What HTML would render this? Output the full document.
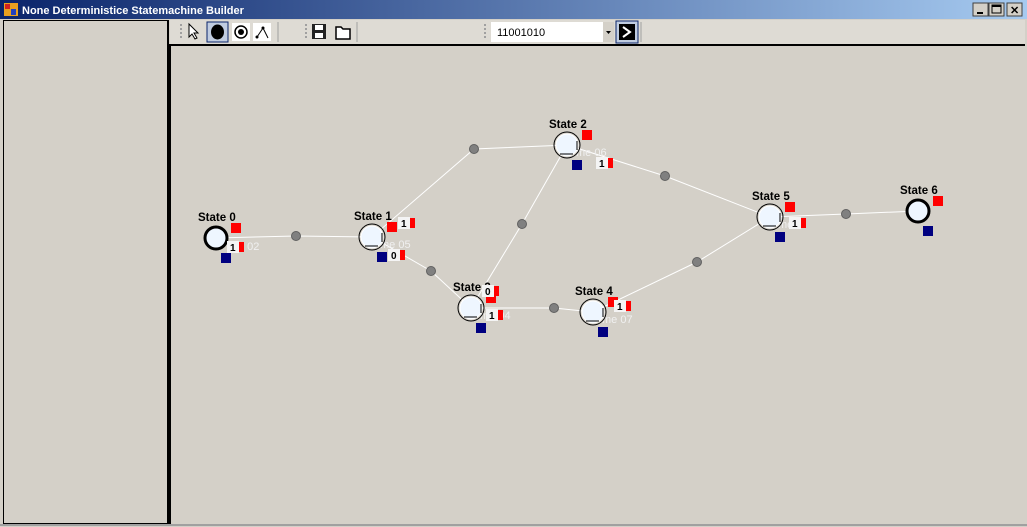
<!DOCTYPE html>
<html><head><meta charset="utf-8">
<style>
body{margin:0;width:1027px;height:527px;overflow:hidden;background:#d4d0c8;font-family:"Liberation Sans",sans-serif;}
</style></head>
<body>
<svg id="s" width="1027" height="527" xmlns="http://www.w3.org/2000/svg" style="position:absolute;left:0;top:0">
<defs>
<linearGradient id="tb" x1="0" x2="1"><stop offset="0" stop-color="#0a246a"/><stop offset="1" stop-color="#a6caf0"/></linearGradient>
</defs>
<rect x="0" y="0" width="1027" height="527" fill="#d4d0c8"/>
<g>
<rect x="0" y="0" width="1027" height="19" fill="url(#tb)"/>
<rect x="4" y="3" width="14" height="13" fill="#e8a020"/><rect x="5" y="4" width="5" height="5" fill="#d02020"/><rect x="11" y="9" width="5" height="6" fill="#2040c0"/>
<text x="22" y="14" font-size="11" font-weight="bold" fill="#fff">None Deterministice Statemachine Builder</text>
</g>
<g><rect x="973" y="3" width="15" height="13" fill="#d4d0c8" stroke="#404040"/><rect x="977" y="12" width="6" height="2" fill="#000"/></g>
<g><rect x="989" y="3" width="15" height="13" fill="#d4d0c8" stroke="#404040"/><rect x="992" y="5" width="9" height="8" fill="none" stroke="#000"/><rect x="992" y="5" width="9" height="2" fill="#000"/></g>
<g><rect x="1007" y="3" width="15" height="13" fill="#d4d0c8" stroke="#404040"/><text x="1010" y="14" font-size="11" font-weight="bold">✕</text></g>
<rect x="3.5" y="20.5" width="165" height="503" fill="#d4d0c8" stroke="#000" stroke-width="1"/>
<line x1="168" y1="20" x2="168" y2="524" stroke="#000" stroke-width="2"/>
<rect x="170" y="20" width="855" height="24" fill="#dedbd4"/>
<g><path d="M189 24 l0 13 l3 -3 l3 5 l2 -1 l-3 -5 l4 0 z" fill="#fff" stroke="#000"/></g>
<g><rect x="207" y="22" width="21" height="20" fill="#c0cce0" stroke="#0a246a"/><ellipse cx="217.5" cy="32" rx="6.5" ry="7.5" fill="#000"/></g>
<g><rect x="232" y="23" width="18" height="18" fill="#fff"/><circle cx="241" cy="32" r="6" fill="none" stroke="#000" stroke-width="1.5"/><circle cx="241" cy="32" r="3" fill="#000"/></g>
<g><rect x="253" y="23" width="18" height="18" fill="#fff"/><polyline points="257,37 263,28 268,38" fill="none" stroke="#000"/><circle cx="257" cy="37" r="1.5"/><circle cx="263" cy="28" r="1.5"/></g>
<g><rect x="312" y="24" width="14" height="15" fill="#222"/><rect x="315" y="25" width="8" height="5" fill="#fff"/><rect x="315" y="33" width="8" height="5" fill="#fff"/></g>
<g><path d="M336 27 h5 l2 2 h7 v10 h-14 z" fill="#fff" stroke="#000" stroke-width="1.5"/></g>
<g><rect x="491" y="22" width="123" height="20" fill="#fff"/><rect x="603" y="22" width="11" height="20" fill="#d4d0c8"/><path d="M606 31 h5 l-2.5 3 z" fill="#000"/><text x="497" y="36" font-size="11">11001010</text></g>
<g><rect x="616" y="21" width="22" height="22" fill="#c0cce0" stroke="#0a246a"/><rect x="619" y="24" width="16" height="16" fill="#000"/><path d="M623 27 l7 5 l-7 5" fill="none" stroke="#fff" stroke-width="2"/></g>
<g fill="#a0a0a0"><rect x="180" y="24" width="2" height="2"/><rect x="180" y="28" width="2" height="2"/><rect x="180" y="32" width="2" height="2"/><rect x="180" y="36" width="2" height="2"/><rect x="305" y="24" width="2" height="2"/><rect x="305" y="28" width="2" height="2"/><rect x="305" y="32" width="2" height="2"/><rect x="305" y="36" width="2" height="2"/><rect x="484" y="24" width="2" height="2"/><rect x="484" y="28" width="2" height="2"/><rect x="484" y="32" width="2" height="2"/><rect x="484" y="36" width="2" height="2"/></g>
<line x1="278" y1="22" x2="278" y2="42" stroke="#a0a0a0"/><line x1="357" y1="22" x2="357" y2="42" stroke="#a0a0a0"/><line x1="641" y1="22" x2="641" y2="42" stroke="#a0a0a0"/>
<rect x="170" y="45" width="855" height="479" fill="#d4d0c8"/>
<line x1="169" y1="45" x2="1025" y2="45" stroke="#000" stroke-width="2"/>
<line x1="170" y1="45" x2="170" y2="524" stroke="#000" stroke-width="2"/>
<line x1="0" y1="525" x2="1027" y2="525" stroke="#a0a0a0" stroke-width="2"/>
<g id="edges"></g><g id="nodes"></g>
</svg>
<script>
const stateNames=["State 0","State 1","State 2","State 3","State 4","State 5","State 6"];
const stateX=[216,372,567,471,593,770,918];
const stateY=[238,237,145,308,312,217,211];
const stateFinal=[1,0,0,0,0,0,1];
const edgeFrom=[0,1,1,2,3,2,4,5];
const edgeTo=[1,2,3,3,4,5,5,6];
const edgeMidX=[296,474,431,522,554,665,697,846];
const edgeMidY=[236,149,271,224,308,176,262,214];
const inputLabels=[["1",231,246],["1",402,222],["0",392,254],["1",600,162],["0",486,290],["1",490,314],["1",618,305],["1",793,222]];
const faintLabels=[["n 02",238,250],["me 05",380,248],["me 06",576,156],["me 04",480,319],["me 07",602,323],["me 0",778,228]];
const NS="http://www.w3.org/2000/svg";
function mk(t,a,p){const e=document.createElementNS(NS,t);for(const k in a)e.setAttribute(k,a[k]);p.appendChild(e);return e;}
const E=document.getElementById('edges'),N=document.getElementById('nodes');
for(let i=0;i<edgeFrom.length;i++){
 const g=mk('g',{},E);
 
 
 const a=edgeFrom[i],b=edgeTo[i];
 mk('polyline',{points:`${stateX[a]},${stateY[a]} ${edgeMidX[i]},${edgeMidY[i]} ${stateX[b]},${stateY[b]}`,fill:'none',stroke:'#ffffff','stroke-width':1},g);
 const h=mk('circle',{cx:edgeMidX[i],cy:edgeMidY[i],r:4.5,fill:'#808080',stroke:'#606060'},g);
 
 
}
for(const [v,x,y] of faintLabels){
 const t=mk('text',{x:x,y:y,'font-size':11,fill:'#f0f0f0'},E);
 
 
 t.textContent=v;
}
for(let i=0;i<stateNames.length;i++){
 const g=mk('g',{},N);
 
 
 const x=stateX[i],y=stateY[i];
 if(stateFinal[i]){mk('circle',{cx:x,cy:y,r:11,fill:'#eef6ff',stroke:'#000','stroke-width':3},g);}
 else{mk('circle',{cx:x,cy:y,r:13,fill:'none',stroke:'#000'},g);mk('circle',{cx:x,cy:y,r:11,fill:'#eef6ff',stroke:'#fff'},g);mk('line',{x1:x-7,y1:y+9,x2:x+6,y2:y+9,stroke:'#000'},g);mk('line',{x1:x+10,y1:y-4,x2:x+10,y2:y+5,stroke:'#000'},g);}
 const t=mk('text',{x:x-18,y:y-17,'font-size':11.5,'font-weight':'bold',fill:'#000'},g);t.textContent=stateNames[i];
 const r=mk('rect',{x:x+15,y:y-15,width:10,height:10,fill:'#ff0000'},g);
 
 
 const bl=mk('rect',{x:x+5,y:y+15,width:10,height:10,fill:'#000080'},g);
 
 
}
for(const [v,x,y] of inputLabels){
 const g=mk('g',{},N);
 
 
 mk('rect',{x:x+3,y:y-4,width:10,height:10,fill:'#ff0000'},g);
 mk('rect',{x:x-4,y:y-5,width:12,height:12,fill:'#f4f4f4'},g);
 const t=mk('text',{x:x-1,y:y+5,'font-size':10,'font-weight':'bold',fill:'#000'},g);t.textContent=v;
}
</script>
</body></html>
